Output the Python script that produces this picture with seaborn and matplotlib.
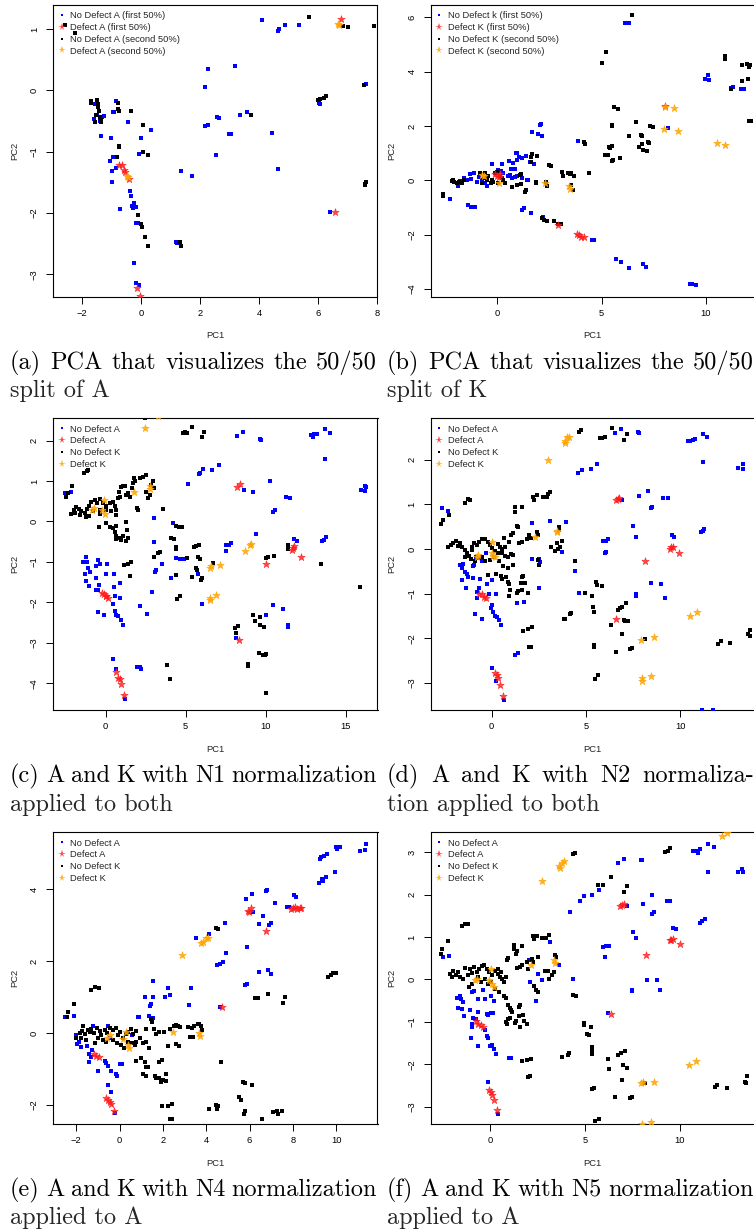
import matplotlib
matplotlib.use("Agg")
import pandas as pd
import matplotlib.pyplot as plt
import seaborn as sns
from matplotlib.lines import Line2D

# ---- data: (PC1, PC2) per point ----
a_nodef1 = [(4.09,1.15),(4.62,0.96),(4.68,1.0),(4.86,1.07),(5.33,1.07),(2.25,0.35),(3.19,0.39),(2.17,0.06),(7.62,0.11),(2.17,-0.58),(2.25,-0.56),(2.56,-0.43),(2.65,-0.45),(3.36,-0.4),(3.57,-0.36),(2.99,-0.71),(3.04,-0.71),(4.42,-0.69),(2.52,-1.05),(4.62,-1.28),(1.36,-1.31),(1.74,-1.39),(6.01,-0.21),(6.05,-0.23),(6.4,-1.99),(1.17,-2.48),(1.2,-2.49),(-0.85,-0.18),(-0.95,-0.36),(-0.9,-0.36),(-1.6,-0.47),(-1.49,-0.41),(-1.56,-0.23),(-1.38,-0.5),(-1.27,-0.42),(-1.31,-0.43),(-0.44,-0.52),(0.35,-0.64),(-1.37,-0.75),(-1.02,-0.78),(0.0,-0.77),(-1.05,-1.16),(-0.95,-1.08),(-0.98,-1.31),(-0.85,-1.26),(-0.98,-1.49),(-0.06,-1.04),(-0.37,-1.64),(-0.34,-1.72),(-0.25,-1.83),(-0.31,-1.88),(-0.26,-1.91),(-0.17,-1.9),(-0.71,-1.93),(-0.16,-2.17),(-0.1,-2.17),(-0.24,-2.81),(-0.18,-3.14),(-0.07,-3.18)]
a_def1 = [(6.78,1.16),(-0.74,-1.21),(-0.66,-1.22),(-0.58,-1.3),(-0.54,-1.33),(-0.42,-1.44),(6.55,-1.99),(-0.14,-3.22),(-0.03,-3.35)]
a_nodef2 = [(-2.58,1.07),(-2.24,0.94),(5.67,1.2),(6.83,1.05),(7.0,1.03),(7.88,1.04),(7.54,0.09),(5.99,-0.15),(6.07,-0.14),(6.2,-0.13),(6.25,-0.1),(7.59,-1.52),(7.62,-1.5),(7.58,-1.54),(3.73,-0.41),(-1.7,-0.2),(-1.68,-0.17),(-1.49,-0.16),(-1.47,-0.23),(-1.46,-0.28),(-1.43,-0.33),(-1.54,-0.4),(-1.55,-0.52),(-1.39,-0.43),(-1.35,-0.48),(-1.34,-0.51),(-0.79,-0.2),(-0.78,-0.31),(-0.75,-0.34),(-0.33,-0.34),(0.07,-0.56),(-0.76,-0.9),(-0.74,-0.93),(-0.82,-1.08),(0.07,-1.01),(0.23,-1.05),(-0.11,-2.03),(-0.01,-2.18),(0.03,-2.22),(0.14,-2.39),(0.22,-2.54),(1.31,-2.48),(1.35,-2.53)]
a_def2 = [(6.66,1.08),(6.69,1.07),(-0.45,-1.41),(-0.48,-1.39)]

b_nodef1 = [(6.12,5.77),(6.31,5.77),(2.12,2.06),(2.04,2.05),(1.68,1.76),(1.96,1.7),(2.16,1.63),(3.85,1.43),(0.88,1.02),(0.97,1.01),(1.04,0.87),(0.97,0.76),(1.17,0.81),(1.39,0.91),(1.58,0.66),(1.77,0.6),(-0.24,0.58),(0.24,0.58),(0.58,0.69),(0.77,0.65),(0.65,0.43),(0.86,0.43),(-1.31,0.22),(-1.1,0.27),(-1.6,0.07),(-1.79,-0.04),(-1.9,-0.22),(-2.27,-0.68),(-0.86,0.11),(-0.72,0.02),(-0.59,-0.1),(-0.48,-0.2),(-0.11,0.27),(0.05,0.37),(0.18,0.33),(0.3,0.25),(0.5,0.15),(0.59,0.18),(0.69,0.1),(0.85,0.12),(0.97,0.16),(-1.45,-0.01),(-0.99,-0.07),(-1.26,0.06),(0.21,0.09),(1.2,0.07),(-1.42,-0.9),(-1.26,-0.97),(-1.07,-0.97),(1.2,-1.08),(1.28,-1.04),(1.61,-1.19),(1.47,0.0),(1.41,0.0),(2.2,-1.35),(8.19,1.94),(4.55,-2.19),(4.65,-2.21),(5.7,-2.91),(5.93,-3.0),(6.33,-3.22),(6.98,-3.07),(7.14,-3.19),(9.25,-3.81),(9.35,-3.83),(9.52,-3.87),(9.95,3.71),(10.11,3.86),(10.14,3.69),(11.31,3.42),(11.23,3.38),(11.68,3.35),(11.84,3.35)]
b_def1 = [(8.04,2.75),(2.91,-1.63),(3.83,-1.97),(3.93,-2.03),(4.04,-2.1),(4.15,-2.1),(-0.11,0.22),(-0.02,0.15),(0.14,0.22),(0.08,0.12)]
b_nodef2 = [(6.45,6.07),(5.21,4.71),(5.0,4.31),(10.94,4.57),(10.91,4.46),(11.74,4.23),(12.0,4.27),(12.1,4.23),(12.06,4.18),(11.74,3.65),(12.03,3.71),(11.23,3.35),(12.06,2.17),(12.16,2.17),(5.61,2.68),(5.8,2.62),(6.66,2.16),(7.32,1.99),(7.46,1.95),(6.89,1.67),(6.92,1.62),(6.96,1.35),(7.24,1.39),(7.28,1.38),(6.79,1.22),(7.01,1.13),(7.19,1.09),(6.33,1.62),(5.48,1.27),(5.41,1.2),(5.38,1.23),(5.19,0.92),(5.29,0.92),(5.89,0.8),(5.53,0.76),(5.49,0.72),(5.48,2.05),(5.51,2.01),(4.15,1.39),(4.23,1.33),(4.39,0.25),(3.37,0.28),(3.48,0.22),(3.56,0.25),(3.67,0.16),(3.56,-0.18),(3.61,-0.37),(2.49,0.55),(2.6,0.52),(3.12,0.29),(3.16,0.16),(2.33,-0.06),(2.4,-0.2),(1.84,-0.11),(1.88,-0.06),(1.93,0.9),(1.65,0.96),(1.6,0.86),(1.61,0.68),(1.34,-0.42),(1.39,-0.37),(1.07,0.21),(1.13,0.23),(0.97,-0.16),(1.13,-0.14),(0.72,-0.25),(2.16,-1.38),(2.22,-1.45),(2.38,-1.5),(2.7,-1.49),(2.92,-1.6),(3.05,-1.62),(-2.6,-0.52),(-2.59,-0.59),(-2.19,-0.04),(-2.06,-0.06),(-1.95,-0.1),(-1.84,-0.05),(-1.71,-0.1),(-1.58,0.0),(-2.1,0.0),(-0.81,0.25),(-0.65,0.1),(-0.43,0.15),(-0.27,0.0),(-0.18,-0.06),(-0.08,0.25),(-0.02,0.31),(0.13,0.15),(0.27,0.0),(0.37,-0.1),(-0.3,-0.1),(-0.51,0.02),(-0.75,-0.1),(-0.59,0.25),(0.05,-0.1)]
b_def2 = [(8.04,2.7),(8.48,2.65),(7.99,1.87),(8.67,1.81),(10.54,1.38),(10.91,1.31),(-0.72,0.21),(-0.62,0.16),(0.08,-0.12),(2.27,-0.12),(3.45,-0.22),(3.47,-0.31)]

c_nodef_a = [(8.21,2.11),(8.58,2.21),(9.63,2.04),(9.73,2.02),(12.85,2.14),(12.96,2.1),(13.06,2.16),(13.23,2.17),(13.69,2.28),(14.04,2.18),(13.71,1.54),(7.08,1.39),(6.65,1.27),(6.08,1.29),(5.88,1.21),(5.83,1.17),(5.15,0.92),(10.29,1.0),(9.21,0.73),(8.67,0.78),(11.29,0.61),(11.54,0.59),(10.56,0.29),(10.48,0.24),(15.98,0.78),(16.23,0.88),(16.31,0.86),(16.23,0.76),(3.02,0.08),(4.21,-0.03),(3.02,-0.51),(9.4,-0.31),(3.54,-1.06),(3.1,-1.24),(3.15,-1.21),(4.63,-0.92),(4.42,-0.9),(4.9,-0.94),(4.06,-1.4),(2.9,-1.74),(2.6,-2.29),(2.13,-2.1),(7.54,-0.74),(7.54,-0.59),(7.73,-0.57),(7.85,-0.54),(11.77,-0.44),(11.98,-0.49),(13.56,-0.49),(13.63,-0.45),(13.77,-0.39),(5.75,-1.3),(6.02,-2.04),(10.46,-2.07),(11.08,-2.17),(11.38,-2.56),(11.42,-2.6),(10.04,-2.3),(8.15,-2.89),(1.98,-3.59),(2.13,-3.59),(2.23,-3.64),(-2.54,0.71),(-2.19,0.73),(-1.42,-0.99),(-1.25,-0.87),(-1.17,-0.99),(-1.1,-1.15),(-0.96,-1.26),(-1.31,-1.31),(-1.25,-1.46),(-1.04,-1.59),(-0.6,-1.09),(-0.48,-0.96),(-0.38,-1.06),(0.06,-1.06),(-0.58,-1.4),(-0.42,-1.57),(0.0,-1.3),(0.52,-1.3),(0.52,-1.61),(0.88,-1.53),(-0.58,-1.69),(-0.48,-1.69),(0.56,-1.85),(0.88,-1.89),(0.48,-2.04),(0.56,-2.21),(0.65,-2.3),(0.77,-2.33),(0.96,-2.43),(1.08,-2.56),(-0.48,-2.24),(-0.13,-2.3),(0.46,-3.4),(0.65,-3.65),(1.21,-4.39)]
c_def_a = [(8.38,0.93),(8.23,0.84),(11.71,-0.65),(11.79,-0.61),(11.67,-0.7),(12.19,-0.89),(10.04,-1.05),(8.31,-2.93),(-0.21,-1.76),(-0.08,-1.8),(0.04,-1.85),(0.17,-1.9),(0.04,-1.83),(0.67,-3.71),(0.77,-3.87),(0.88,-3.89),(0.96,-4.01),(1.15,-4.3)]
c_nodef_k = [(2.46,2.56),(4.81,2.18),(4.96,2.22),(5.1,2.18),(5.4,2.33),(6.13,2.21),(6.02,2.08),(-1.17,1.25),(-1.08,1.28),(-1.33,1.21),(-2.46,0.6),(-2.38,0.7),(-2.08,0.88),(-2.15,0.19),(-2.0,0.29),(-1.83,0.35),(-1.67,0.31),(-1.52,0.25),(-1.31,0.21),(-1.17,0.32),(-1.04,0.39),(-0.9,0.49),(-0.69,0.54),(-0.54,0.45),(-0.38,0.55),(-0.17,0.45),(0.04,0.37),(0.25,0.45),(0.46,0.49),(0.56,0.37),(0.67,0.29),(0.77,0.58),(0.83,0.74),(0.98,0.85),(1.08,0.88),(1.19,0.87),(1.29,0.66),(0.88,0.6),(1.4,0.7),(1.5,0.6),(1.67,0.82),(1.75,1.07),(1.81,0.99),(1.71,0.95),(2.13,1.07),(2.33,1.11),(2.5,1.15),(2.54,0.74),(2.65,0.59),(2.75,0.66),(2.85,0.91),(2.96,0.99),(3.02,0.82),(1.96,0.33),(2.04,0.29),(3.58,0.31),(-1.04,0.14),(-0.79,0.25),(-0.38,0.29),(0.04,0.29),(0.35,0.25),(0.63,0.16),(-0.38,0.19),(-1.25,0.11),(-1.94,0.22),(-1.63,0.16),(-0.42,-0.13),(0.04,-0.04),(0.25,-0.14),(0.46,-0.16),(0.56,-0.25),(0.63,-0.37),(0.63,-0.44),(0.88,-0.4),(0.98,-0.45),(1.08,-0.37),(1.25,-0.02),(1.35,-0.22),(1.4,-0.41),(1.29,-0.49),(0.67,-0.1),(1.15,-1.07),(1.4,-1.05),(1.56,-1.01),(1.5,-1.36),(3.0,-0.87),(3.29,-0.78),(3.42,-0.76),(4.1,-0.4),(4.25,-0.44),(4.38,-0.62),(4.42,-0.68),(4.42,-0.11),(4.56,-0.14),(4.79,-0.14),(4.42,-1.32),(4.48,-1.91),(4.67,-1.85),(5.1,-0.9),(5.4,-1.38),(5.52,-0.62),(5.67,-0.6),(5.83,-0.57),(5.67,-1.14),(5.69,-1.2),(5.77,-0.89),(5.88,-0.93),(5.98,-1.44),(6.04,-1.4),(6.71,-1.03),(8.08,-2.64),(8.25,-2.58),(8.17,-2.75),(9.21,-2.32),(9.31,-2.45),(9.63,-2.35),(9.67,-2.56),(9.9,-2.61),(9.83,-3.3),(9.94,-3.31),(10.04,-3.28),(9.58,-3.26),(8.9,-3.52),(8.9,-3.57),(10.04,-4.23),(3.83,-3.56),(4.02,-3.9),(10.04,-0.9),(10.17,-0.87),(10.5,-0.85),(11.4,-0.57),(11.42,-0.67),(13.44,-1.06),(15.88,-1.62)]
c_def_k = [(2.46,2.32),(3.25,2.6),(1.77,0.73),(2.75,0.87),(2.79,0.81),(-0.1,0.52),(-0.85,0.29),(-0.73,0.33),(-0.21,0.29),(-0.06,0.19),(6.5,-1.15),(6.56,-1.11),(7.13,-1.08),(8.71,-0.73),(9.0,-0.59),(9.06,-0.56),(6.5,-1.94),(6.54,-1.88),(6.88,-1.81)]

d_nodef_a = [(6.54,2.6),(6.86,2.69),(7.77,2.63),(7.83,2.61),(10.39,2.41),(10.51,2.43),(10.65,2.45),(10.78,2.46),(11.22,2.58),(11.43,2.51),(11.22,1.95),(13.07,1.81),(13.34,1.91),(13.29,1.79),(4.56,1.71),(4.81,1.77),(5.25,1.79),(5.6,1.9),(6.93,1.1),(7.83,1.18),(8.27,1.31),(8.45,0.91),(8.48,0.94),(9.1,1.15),(9.33,1.15),(11.1,0.37),(11.17,0.4),(11.27,0.44),(7.51,0.51),(7.63,0.26),(9.54,0.31),(9.68,0.26),(5.92,0.17),(6.04,0.18),(6.18,0.22),(6.01,-0.08),(6.04,-0.06),(3.96,0.6),(3.11,0.62),(2.14,0.58),(2.16,-0.22),(2.51,-0.22),(2.54,-0.29),(3.71,-0.06),(4.43,-0.49),(4.65,-0.99),(2.53,-0.87),(8.43,-0.77),(8.98,-0.79),(9.19,-1.09),(7.67,-1.02),(7.63,-1.06),(1.33,-1.22),(1.73,-1.19),(1.24,-2.37),(1.41,-2.34),(-2.61,0.91),(-2.3,0.85),(-1.68,-0.36),(-1.5,-0.34),(-1.55,-0.43),(-1.41,-0.51),(-1.31,-0.57),(-1.24,-0.62),(-1.55,-0.7),(-0.99,-0.38),(-0.92,-0.36),(-0.85,-0.17),(-0.53,-0.28),(-0.32,-0.1),(-1.38,-0.88),(-0.97,-0.66),(-0.62,-0.68),(-0.8,-0.96),(-0.78,-1.09),(-0.69,-0.88),(-0.25,-0.79),(-0.14,-1.0),(-0.04,-1.33),(0.04,-1.26),(0.09,-1.42),(0.18,-1.5),(0.28,-1.52),(0.41,-1.59),(0.51,-1.71),(0.04,-0.7),(0.23,-1.01),(-0.88,-1.46),(-0.49,-1.56),(0.04,-2.66),(0.21,-2.96),(0.65,-3.38),(11.13,-3.6),(11.75,-3.6)]
d_def_a = [(6.59,1.09),(6.68,1.12),(6.75,1.15),(8.13,-0.28),(9.49,0.04),(9.58,0.05),(9.45,0.01),(9.93,-0.1),(6.59,-1.57),(-0.65,-1.0),(-0.53,-1.01),(-0.39,-1.07),(-0.32,-1.09),(0.18,-2.77),(0.28,-2.83),(0.32,-2.9),(0.44,-3.04),(0.58,-3.3)]
d_nodef_k = [(6.36,2.71),(5.74,2.48),(5.87,2.48),(6.01,2.51),(7.03,2.45),(7.19,2.58),(4.65,2.63),(4.74,2.66),(-1.41,1.03),(-1.27,1.12),(-1.13,1.1),(-2.69,0.55),(-2.56,0.65),(-2.26,0.76),(1.24,0.94),(1.63,0.94),(1.24,0.83),(2.17,1.16),(2.26,1.1),(2.42,1.2),(2.74,1.16),(2.93,1.16),(3.0,1.24),(3.09,1.27),(1.36,0.52),(1.38,0.49),(1.11,0.35),(1.02,0.31),(0.65,0.25),(0.92,0.15),(0.71,0.05),(0.53,0.01),(0.35,0.11),(2.0,0.31),(2.07,0.25),(1.86,0.22),(1.59,0.15),(1.47,0.13),(2.39,0.39),(2.47,0.31),(3.57,0.5),(3.57,0.43),(3.71,0.19),(3.64,0.04),(3.5,-0.01),(3.36,-0.05),(3.13,0.04),(3.46,0.14),(2.47,-0.25),(2.51,-0.36),(-2.3,0.05),(-2.16,0.09),(-2.03,0.13),(-1.91,0.18),(-1.8,0.07),(-1.68,0.14),(-1.55,0.05),(-1.41,-0.02),(-1.33,-0.08),(-1.2,-0.15),(-1.06,0.05),(-1.02,-0.02),(-0.92,0.13),(-0.8,0.09),(-0.65,0.16),(-0.53,0.22),(-0.35,0.22),(-0.21,0.15),(-0.09,0.09),(0.04,0.03),(0.18,-0.04),(0.32,-0.1),(0.44,0.05),(0.57,-0.08),(0.71,-0.16),(0.88,-0.17),(1.02,-0.11),(1.15,-0.13),(-0.49,-0.17),(-0.67,-0.21),(-0.35,-0.28),(-0.09,-0.25),(0.11,-0.17),(0.39,-0.27),(-1.41,-0.17),(-1.1,-0.23),(-0.88,-0.28),(-0.21,-0.58),(0.25,-0.56),(0.49,-0.61),(0.57,-0.68),(0.76,-0.62),(0.88,-0.73),(0.92,-0.79),(0.99,-0.92),(0.92,-1.06),(1.33,-0.98),(1.38,-0.94),(1.55,-0.77),(1.59,-0.62),(1.68,-0.6),(1.77,-0.77),(1.91,-0.98),(1.59,-0.92),(0.62,-0.38),(1.15,-0.36),(0.85,-0.43),(1.66,-1.83),(1.94,-1.8),(2.16,-1.76),(1.98,-2.19),(2.08,-2.19),(3.83,-1.56),(3.89,-1.56),(4.15,-1.46),(4.19,-1.43),(4.42,-0.26),(5.51,-0.75),(5.58,-0.81),(5.87,-0.83),(4.95,-0.98),(5.3,-1.06),(5.39,-1.29),(5.41,-1.41),(5.41,-2.19),(5.44,-2.16),(5.49,-2.91),(5.65,-2.83),(6.31,-1.71),(6.59,-2.31),(6.71,-1.37),(6.8,-1.33),(6.93,-1.29),(7.12,-1.22),(6.93,-1.91),(7.02,-1.59),(7.07,-1.62),(7.21,-1.62),(7.35,-2.25),(7.42,-2.22),(8.13,-2.01),(12.01,-2.12),(12.16,-2.07),(12.63,-2.1),(13.6,-1.91),(13.69,-1.82),(13.66,-1.95)]
d_def_k = [(3.98,2.5),(4.1,2.5),(3.89,2.43),(3.9,2.37),(3.0,2.0),(2.3,0.26),(3.46,0.37),(3.48,0.41),(0.04,0.16),(-0.71,-0.13),(-0.8,-0.17),(0.09,-0.15),(0.18,-0.19),(0.0,-0.1),(7.92,-2.03),(8.62,-1.97),(10.51,-1.5),(10.9,-1.41),(7.95,-2.96),(7.99,-2.9),(8.45,-2.85)]

e_nodef_a = [(11.38,5.25),(11.34,5.08),(11.11,5.05),(10.2,5.16),(10.0,5.18),(10.03,5.11),(9.58,4.96),(9.46,4.92),(9.31,4.88),(9.26,4.83),(9.95,4.48),(9.51,4.32),(9.35,4.27),(9.38,4.22),(9.23,4.16),(6.77,3.94),(6.8,3.96),(6.12,3.85),(5.85,3.71),(7.17,3.6),(8.03,3.82),(8.15,3.79),(7.72,3.49),(7.82,3.49),(6.15,3.37),(6.62,3.25),(6.43,3.02),(6.89,3.0),(7.0,3.05),(4.86,3.05),(4.11,2.76),(3.51,2.63),(5.88,2.38),(4.89,2.21),(4.77,1.96),(4.62,1.92),(4.49,1.89),(5.88,1.36),(5.78,1.33),(6.43,1.69),(6.83,1.75),(7.0,1.63),(3.29,1.24),(3.18,0.78),(2.23,1.26),(2.34,1.05),(2.08,1.0),(1.54,1.0),(1.46,0.8),(1.42,0.76),(1.18,0.99),(1.54,1.43),(0.89,0.45),(0.85,0.43),(1.37,0.47),(1.54,0.41),(4.62,0.71),(-2.52,0.44),(-2.12,0.48),(-2.0,-0.07),(-1.88,-0.26),(-1.97,-0.31),(-1.77,-0.4),(-1.51,-0.36),(-1.23,0.2),(-1.26,-0.48),(-1.42,-0.59),(-1.42,-0.81),(-1.31,-0.66),(-0.98,-1.07),(-0.69,-0.78),(-0.62,-0.84),(-0.54,-0.91),(-0.38,-1.06),(-0.18,-1.13),(-0.12,-1.19),(-0.54,-1.44),(-0.42,-1.65),(-0.23,-2.23),(0.03,-0.85),(0.09,-0.85),(-0.46,-0.13),(-0.54,0.18),(0.57,-0.06)]
e_def_a = [(5.91,3.39),(5.97,3.35),(6.08,3.48),(8.0,3.46),(8.11,3.51),(8.2,3.44),(8.31,3.48),(8.38,3.46),(7.92,3.44),(6.77,2.83),(4.71,0.73),(-1.2,-0.59),(-1.08,-0.63),(-0.97,-0.68),(-0.62,-1.8),(-0.54,-1.86),(-0.46,-1.93),(-0.38,-1.98),(-0.26,-2.17)]
e_nodef_k = [(9.85,1.66),(9.75,1.61),(9.63,1.56),(10.0,1.66),(6.85,1.08),(6.23,0.96),(6.38,0.96),(7.62,0.99),(7.54,0.84),(-1.31,1.19),(-1.12,1.29),(-0.95,1.26),(-2.11,0.8),(-2.38,0.57),(-2.43,0.45),(1.43,0.39),(1.49,0.31),(3.63,0.24),(2.31,0.11),(2.49,0.18),(2.62,0.22),(2.69,0.19),(2.77,0.16),(3.15,0.16),(3.35,0.13),(3.45,0.18),(3.65,0.26),(3.77,0.19),(3.82,0.09),(3.23,-0.12),(3.38,-0.1),(2.03,0.04),(1.82,0.02),(1.66,-0.04),(1.57,0.11),(1.23,0.11),(2.62,-0.31),(2.74,-0.35),(2.23,-0.35),(1.35,-0.41),(1.23,-0.24),(1.08,-0.29),(0.92,-0.15),(0.77,-0.26),(0.69,-0.33),(0.58,-0.29),(0.74,-0.78),(1.0,-0.7),(1.15,-0.8),(1.23,-0.94),(1.31,-0.96),(1.08,-1.15),(1.23,-1.19),(1.62,-1.19),(1.69,-1.26),(1.82,-1.26),(1.89,-1.35),(2.0,-1.31),(2.12,-1.15),(2.15,-1.33),(1.82,-0.8),(1.94,-0.76),(4.68,-0.81),(1.95,-2.02),(2.23,-2.02),(2.4,-1.98),(2.31,-2.39),(2.4,-2.39),(4.12,-2.12),(4.49,-2.12),(4.46,-2.0),(4.54,-2.02),(5.51,-1.79),(5.62,-1.86),(5.69,-1.35),(5.78,-1.4),(6.11,-1.44),(5.78,-2.17),(5.72,-2.26),(6.58,-2.39),(7.08,-2.2),(7.28,-2.17),(7.51,-2.17),(7.32,-2.24),(4.46,2.91),(4.52,2.89),(-2.0,-0.13),(-1.85,-0.01),(-1.72,0.06),(-1.62,-0.04),(-1.46,0.08),(-1.31,0.11),(-1.18,-0.01),(-1.05,0.13),(-0.92,0.06),(-0.85,-0.06),(-0.69,0.08),(-0.58,-0.01),(-0.46,0.13),(-0.31,0.08),(-0.15,0.15),(-0.08,-0.06),(0.03,0.04),(0.15,-0.15),(0.28,-0.04),(0.38,0.04),(0.51,0.11),(0.62,-0.04),(0.74,0.06),(-1.12,-0.29),(-1.0,-0.15),(-0.77,-0.19),(-0.62,-0.24),(-0.31,-0.19),(-0.12,-0.29),(0.08,-0.33),(0.18,-0.41),(0.38,-0.24),(-1.77,-0.15),(-1.57,-0.19),(-1.69,0.18),(-1.38,0.04)]
e_def_k = [(2.89,2.17),(3.77,2.49),(3.85,2.54),(3.97,2.63),(4.08,2.65),(-0.58,-0.13),(-0.46,-0.07),(0.28,0.04),(0.15,-0.17),(0.4,-0.33),(0.43,-0.41),(2.46,0.02),(3.66,-0.01),(3.69,-0.08)]

f_nodef_a = [(6.75,2.75),(7.07,2.85),(7.93,2.82),(7.98,2.81),(10.7,3.02),(10.82,3.03),(10.93,2.99),(11.05,3.08),(11.49,3.19),(11.79,3.13),(11.46,2.53),(13.07,2.53),(13.28,2.61),(13.33,2.53),(4.74,1.86),(4.96,1.96),(5.39,2.0),(5.74,2.1),(7.23,1.72),(8.07,1.78),(8.54,1.98),(8.51,1.55),(8.65,1.6),(9.3,1.84),(9.47,1.86),(11.05,1.34),(11.18,1.38),(11.32,1.42),(7.54,1.13),(7.7,0.97),(9.63,1.22),(9.77,1.19),(5.96,0.76),(6.09,0.79),(6.26,0.8),(6.05,0.54),(4.21,1.59),(3.16,0.89),(2.07,0.46),(2.09,-0.05),(2.51,0.13),(2.42,-0.51),(2.75,-0.02),(3.63,0.33),(4.39,0.02),(4.53,-0.4),(7.46,-0.24),(7.49,-0.28),(8.25,-0.02),(8.77,-0.02),(8.96,-0.24),(6.23,-0.79),(1.0,-1.86),(1.11,-1.85),(-2.46,0.53),(-2.14,0.56),(-1.75,-0.44),(-1.58,-0.39),(-1.53,-0.46),(-1.4,-0.53),(-1.67,-0.68),(-1.46,-0.69),(-1.37,-0.86),(-0.96,-0.3),(-0.82,-0.28),(-0.61,-0.46),(-0.26,-0.47),(-1.05,-0.72),(-0.91,-0.91),(-0.75,-0.93),(-0.96,-1.05),(-0.93,-1.12),(-0.18,-0.81),(0.05,-0.79),(0.18,-0.79),(-0.65,-0.77),(-0.37,-0.26),(-0.12,-0.83),(-0.26,-1.2),(-0.18,-1.34),(-0.09,-1.38),(0.02,-1.56),(0.12,-1.54),(0.23,-1.65),(0.32,-1.76),(-1.0,-1.38),(-0.61,-1.58),(0.05,-0.4),(0.19,-0.5),(-0.09,-2.41),(0.4,-3.17)]
f_def_a = [(6.86,1.72),(6.96,1.75),(7.07,1.78),(8.19,0.58),(9.51,0.94),(9.61,0.96),(9.47,0.92),(9.98,0.84),(6.37,-0.81),(-0.74,-0.99),(-0.61,-1.05),(-0.47,-1.08),(-0.39,-1.12),(-0.05,-2.6),(0.05,-2.66),(0.12,-2.72),(0.19,-2.85),(0.37,-3.09)]
f_nodef_k = [(9.21,3.0),(9.35,3.04),(9.47,3.1),(4.39,2.96),(4.47,2.99),(5.7,2.22),(5.96,2.23),(6.37,2.41),(7.07,2.06),(7.19,2.2),(-1.32,1.31),(-1.18,1.3),(-1.46,1.27),(-2.58,0.61),(-2.51,0.71),(-2.23,0.9),(1.28,0.82),(1.28,0.71),(1.7,0.8),(0.96,0.5),(0.88,0.45),(2.25,1.02),(2.33,0.96),(2.46,1.02),(2.72,0.97),(2.93,0.97),(3.11,1.04),(1.37,0.61),(1.4,0.66),(2.19,0.49),(2.25,0.41),(2.51,0.53),(2.89,0.19),(3.04,0.21),(3.42,0.57),(3.46,0.53),(3.11,0.02),(3.25,0.11),(3.35,0.17),(1.4,0.27),(1.58,0.29),(1.7,0.35),(1.93,0.42),(2.02,0.24),(2.33,-0.16),(2.4,-0.26),(2.51,-0.3),(0.74,-0.39),(0.82,-0.43),(0.96,-0.6),(1.05,-0.68),(1.11,-0.73),(1.14,-0.77),(0.84,-1.01),(0.88,-1.05),(0.93,-0.93),(1.05,-0.91),(1.32,-1.03),(1.37,-0.99),(1.54,-0.65),(1.6,-0.61),(1.53,-0.86),(1.72,-0.85),(1.58,-1.12),(1.81,-0.99),(1.95,-1.05),(1.67,-1.92),(1.95,-1.91),(2.14,-1.87),(2.02,-2.3),(2.12,-2.28),(4.35,-0.36),(4.53,-0.39),(4.95,-1.02),(4.96,-1.08),(5.11,-1.28),(5.21,-1.32),(5.3,-1.12),(5.35,-1.6),(5.39,-1.75),(5.37,-1.7),(3.77,-1.83),(4.12,-1.79),(4.18,-1.74),(5.35,-2.59),(5.46,-2.56),(5.53,-3.35),(5.75,-3.29),(6.19,-1.87),(6.26,-2.11),(6.58,-2.78),(6.75,-1.78),(6.89,-1.73),(7.11,-1.68),(6.96,-2.38),(7.02,-2.03),(7.23,-2.08),(7.37,-2.8),(7.46,-2.78),(8.16,-2.44),(11.84,-2.54),(11.96,-2.5),(12.46,-2.56),(13.42,-2.41),(13.51,-2.28),(13.47,-2.44),(-2.11,0.13),(-2.02,0.06),(-1.93,0.19),(-1.81,0.11),(-1.67,0.17),(-1.58,0.06),(-1.4,0.02),(-1.32,0.27),(-1.18,0.11),(-1.05,0.25),(-0.93,0.16),(-0.82,0.29),(-0.68,0.17),(-0.56,0.25),(-0.44,0.31),(-0.3,0.35),(-0.18,0.24),(-0.05,0.17),(0.12,0.11),(0.26,0.21),(0.4,0.13),(0.53,0.06),(0.65,0.0),(0.75,-0.06),(0.82,0.06),(0.44,0.24),(0.58,0.17),(-0.47,-0.06),(-0.26,0.0),(-0.09,-0.1),(0.05,-0.05),(-0.61,0.06),(-1.09,-0.18),(0.47,-0.3),(0.26,-0.22),(-0.93,-0.1)]
f_def_k = [(2.72,2.33),(3.65,2.67),(3.77,2.74),(3.89,2.79),(3.68,2.63),(12.23,3.38),(12.46,3.46),(2.16,0.35),(3.37,0.45),(3.42,0.39),(0.05,0.25),(-0.79,-0.02),(-0.68,0.02),(-0.05,-0.01),(0.12,-0.1),(0.23,-0.18),(7.95,-2.44),(8.04,-2.42),(8.65,-2.42),(10.47,-2.03),(10.82,-1.93),(8.46,-3.36),(8.02,-3.42)]

labels_ab_a = ["No Defect A (first 50%)", "Defect A (first 50%)", "No Defect A (second 50%)", "Defect A (second 50%)"]
labels_ab_k = ["No Defect k (first 50%)", "Defect K (first 50%)", "No Defect K (second 50%)", "Defect K (second 50%)"]
labels_ak = ["No Defect A", "Defect A", "No Defect K", "Defect K"]

captions = {
    "a": ["(a) PCA that visualizes the 50/50", "split of A"],
    "b": ["(b) PCA that visualizes the 50/50", "split of K"],
    "c": ["(c) A and K with N1 normalization", "applied to both"],
    "d": ["(d) A and K with N2 normaliza-", "tion applied to both"],
    "e": ["(e) A and K with N4 normalization", "applied to A"],
    "f": ["(f) A and K with N5 normalization", "applied to A"],
}

# ---- styling ----
sns.set_theme(style="white")
plt.rcParams["font.family"] = ["Liberation Sans", "DejaVu Sans"]

W, H = 754, 1232
fig = plt.figure(figsize=(W / 100, H / 100), dpi=100)
fig.patch.set_facecolor("white")
renderer = fig.canvas.get_renderer()


def fit_size(text, target_px, **kw):
    # font size that gives the text the width it has in the reference
    t = fig.text(0, 0, text, fontsize=10, **kw)
    w = t.get_window_extent(renderer).width
    t.remove()
    return 10 * target_px / w


SMALL = fit_size("No Defect A (second 50%)", 110.6)
CAP = fit_size("split of A", 100, family="cmr10")
EM = SMALL * 100 / 72  # legend em in pixels

# colour, marker, size, alpha for the four series (blue sq, red star, black sq, orange star)
series_style = [("#0000FF", "s", 7, 1.0),
                ("#FF1A1A", "*", 30, 0.8),
                ("#000000", "s", 7, 1.0),
                ("#FFA500", "*", 30, 0.85)]
draw_order = [0, 2, 1, 3]

panels = [
    ("a", [a_nodef1, a_def1, a_nodef2, a_def2], labels_ab_a, (-2.98, 8.0), (-3.36, 1.39), [-2, 0, 2, 4, 6, 8], [-3, -2, -1, 0, 1]),
    ("b", [b_nodef1, b_def1, b_nodef2, b_def2], labels_ab_k, (-3.19, 12.36), (-4.28, 6.45), [0, 5, 10], [-4, -2, 0, 2, 4, 6]),
    ("c", [c_nodef_a, c_def_a, c_nodef_k, c_def_k], labels_ak, (-3.29, 17.0), (-4.66, 2.55), [0, 5, 10, 15], [-4, -3, -2, -1, 0, 1, 2]),
    ("d", [d_nodef_a, d_def_a, d_nodef_k, d_def_k], labels_ak, (-3.23, 13.95), (-3.61, 2.93), [0, 5, 10], [-3, -2, -1, 0, 1, 2]),
    ("e", [e_nodef_a, e_def_a, e_nodef_k, e_def_k], labels_ak, (-3.08, 11.91), (-2.53, 5.575), [-2, 0, 2, 4, 6, 8, 10], [-2, 0, 2, 4]),
    ("f", [f_nodef_a, f_def_a, f_nodef_k, f_def_k], labels_ak, (-3.12, 13.95), (-3.41, 3.47), [0, 5, 10], [-3, -2, -1, 0, 1, 2, 3]),
]

# panel boxes in pixels: left/right per column, top/bottom per row
col_x = [(53, 377.5), (430.7, 755)]
row_y = [(5, 296.5), (418.3, 710), (832.3, 1124)]


def justify(words, x0, x1, y_px, size):
    texts = [fig.text(0, 1 - y_px / H, w, fontsize=size, family="cmr10", va="baseline", color="black")
             for w in words]
    widths = [t.get_window_extent(renderer).width for t in texts]
    gap = (x1 - x0 - sum(widths)) / (len(words) - 1)
    x = x0
    for t, w in zip(texts, widths):
        t.set_x(x / W)
        x += w + gap


for i, (key, groups, labels, xlim, ylim, xt, yt) in enumerate(panels):
    row, col = divmod(i, 2)
    left, right = col_x[col]
    top, bottom = row_y[row]
    ax = fig.add_axes([left / W, 1 - bottom / H, (right - left) / W, (bottom - top) / H])
    ax.set_facecolor("white")

    frames = []
    for g, (pts, lab) in enumerate(zip(groups, labels)):
        df = pd.DataFrame(pts, columns=["PC1", "PC2"])
        df["group"] = lab
        df["order"] = g
        frames.append(df)
    data = pd.concat(frames, ignore_index=True)

    for g in draw_order:
        color, marker, size, alpha = series_style[g]
        sub = data[data["order"] == g]
        sns.scatterplot(data=sub, x="PC1", y="PC2", ax=ax, color=color, marker=marker,
                        s=size, alpha=alpha, linewidth=0.5 if marker == "*" else 0,
                        edgecolor=color, legend=False, zorder=3)

    ax.set_xlim(*xlim)
    ax.set_ylim(*ylim)
    ax.set_xticks(xt)
    ax.set_yticks(yt)
    ax.set_xticklabels([str(v).replace("-", "\u2212") for v in xt])
    ax.set_yticklabels([str(v).replace("-", "\u2212") for v in yt], rotation=90, va="center")
    ax.tick_params(axis="both", direction="out", length=4.7, width=0.7, color="black",
                   labelsize=SMALL, colors="black")
    ax.tick_params(axis="x", pad=4.0, bottom=True)
    ax.tick_params(axis="y", pad=5.5, left=True)
    for sp in ax.spines.values():
        sp.set_visible(True)
        sp.set_color("black")
        sp.set_linewidth(0.8)
    ax.grid(False)

    ax.set_xlabel("PC1", fontsize=SMALL, va="center")
    ax.xaxis.set_label_coords(0.5, -39.5 / (bottom - top))
    ax.set_ylabel("PC2", fontsize=SMALL, va="center")
    ax.yaxis.set_label_coords(-38.5 / (right - left), 0.5)

    handles = []
    for g in range(4):
        color, marker, size, alpha = series_style[g]
        handles.append(Line2D([], [], linestyle="none", marker=marker, color=color, alpha=alpha,
                              markersize=size ** 0.5 * (0.8 if marker == "s" else 1.0),
                              markeredgewidth=0))
    leg = ax.legend(handles, labels, loc="upper left", bbox_to_anchor=(0, 1), borderaxespad=0,
                    fontsize=SMALL, frameon=True, fancybox=False, framealpha=0,
                    handlelength=4.8 / EM, handletextpad=6.3 / EM, labelspacing=2.8 / EM,
                    borderpad=6.3 / EM)
    leg.get_frame().set_edgecolor("black")
    leg.get_frame().set_linewidth(0.8)

    # caption under the panel (serif, first line justified)
    x0 = 10 if col == 0 else 387
    base = 369 + row * 413.5
    line1, line2 = captions[key]
    justify(line1.split(" "), x0, x0 + 367, base, CAP)
    fig.text(x0 / W, 1 - (base + 28) / H, line2, fontsize=CAP, family="cmr10", va="baseline")

fig.savefig("out.png", dpi=100)
